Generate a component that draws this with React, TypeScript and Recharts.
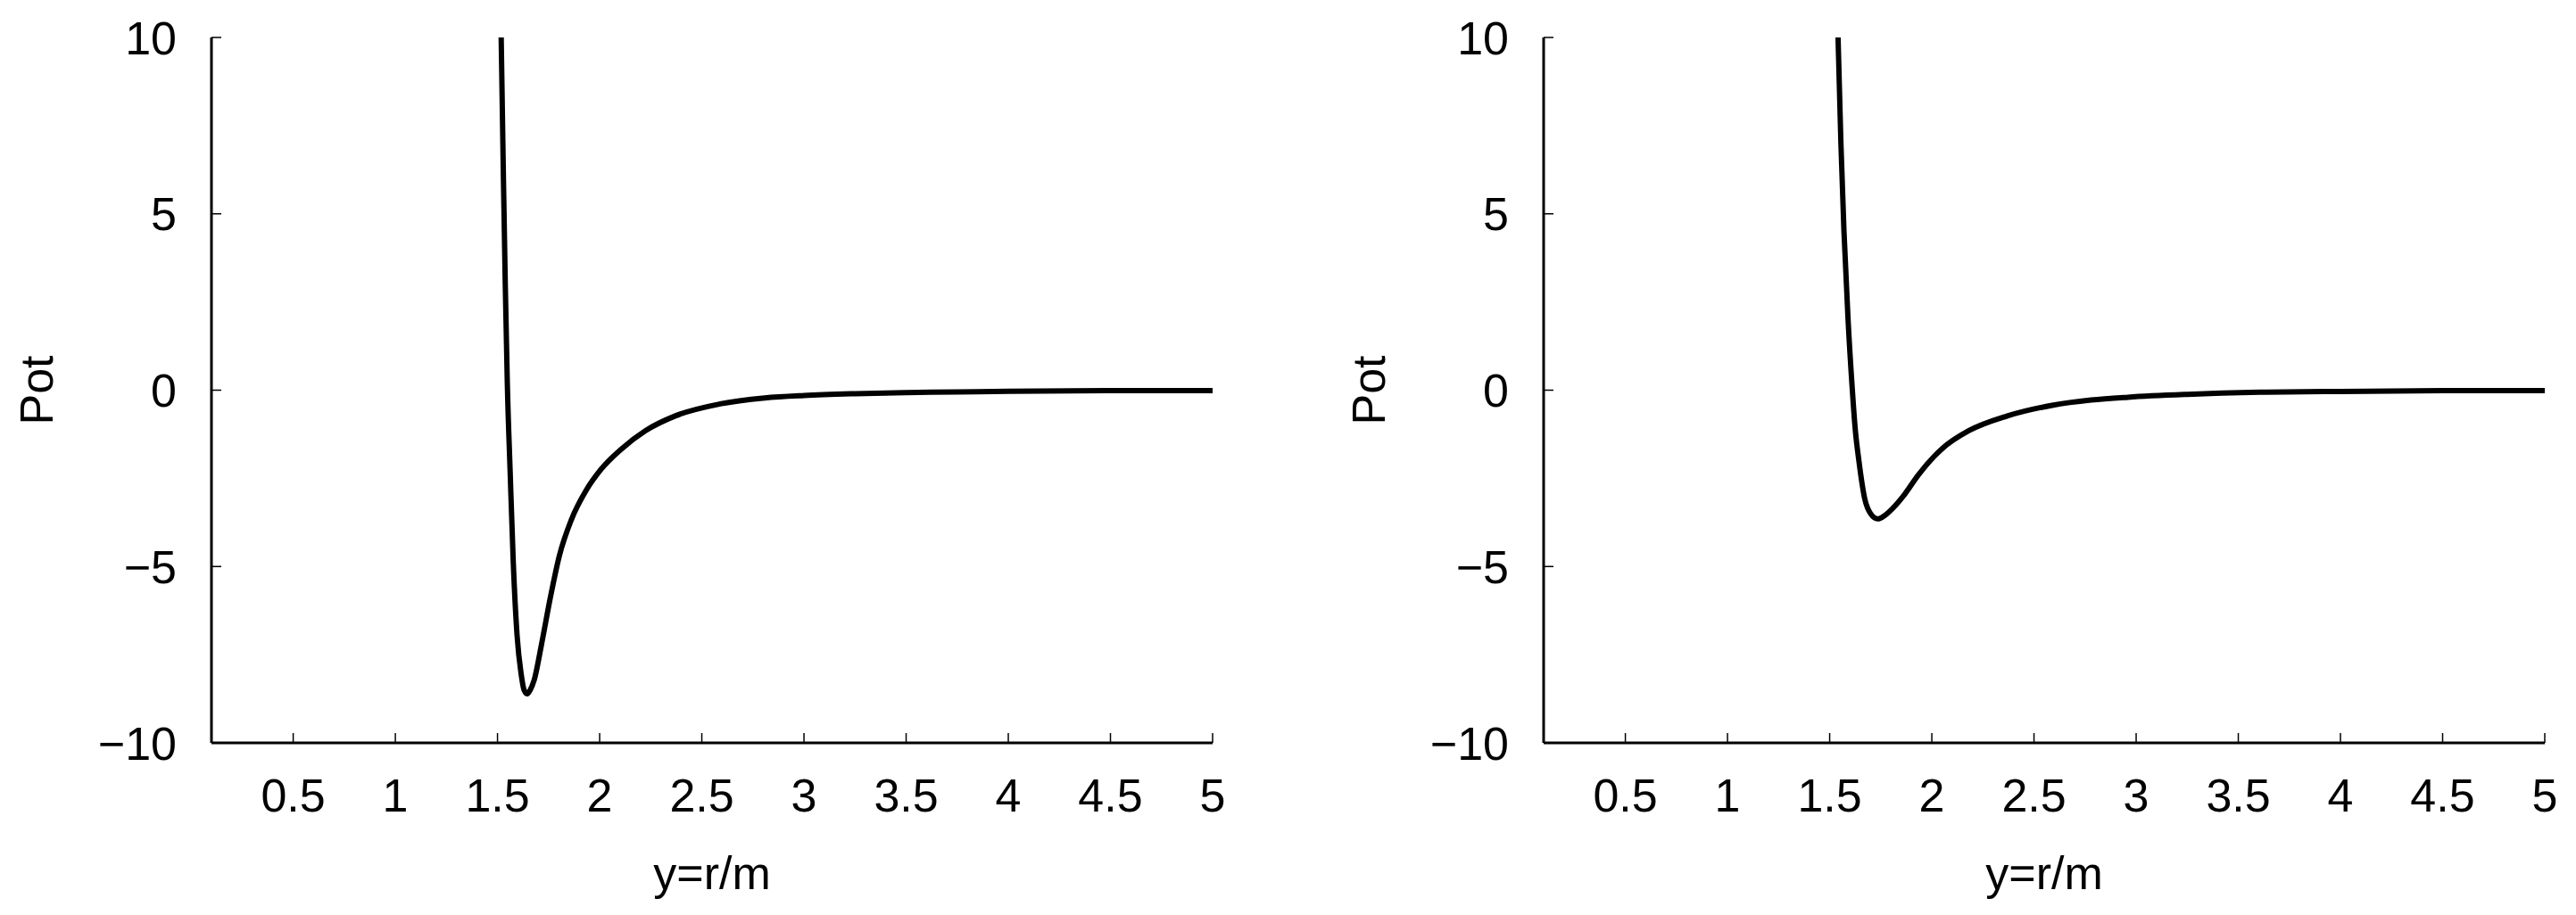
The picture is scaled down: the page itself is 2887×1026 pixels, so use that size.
import React from 'react';
import { LineChart, Line, XAxis, YAxis } from 'recharts';

// Left panel: y=r/m vs Pot
const leftY = [1.518, 1.529, 1.538, 1.548, 1.562, 1.577, 1.596, 1.616, 1.630, 1.645, 1.660, 1.679, 1.715, 1.759, 1.803, 1.861, 1.934, 2.006, 2.108, 2.224, 2.370, 2.589, 2.808, 3.0, 3.25, 3.5, 3.75, 4.0, 4.5, 5.0];
const leftPot = [10, 6.0, 3.0, 0.2, -2.33, -4.86, -6.97, -8.06, -8.5, -8.61, -8.5, -8.23, -7.22, -5.87, -4.69, -3.68, -2.84, -2.25, -1.66, -1.15, -0.73, -0.39, -0.22, -0.15, -0.10, -0.07, -0.05, -0.03, -0.015, -0.01];

// Right panel
const rightY = [1.541, 1.555, 1.570, 1.590, 1.611, 1.625, 1.643, 1.672, 1.700, 1.735, 1.770, 1.820, 1.861, 1.933, 2.050, 2.181, 2.370, 2.589, 2.780, 2.960, 3.25, 3.607, 4.0, 4.5, 5.0];
const rightPot = [10, 7.0, 4.5, 2.0, 0, -1.1, -2.0, -3.09, -3.5, -3.65, -3.55, -3.28, -3.0, -2.41, -1.66, -1.15, -0.73, -0.43, -0.28, -0.2, -0.12, -0.06, -0.035, -0.015, -0.01];

const xTicks = [0.5, 1, 1.5, 2, 2.5, 3, 3.5, 4, 4.5, 5];
const yTicks = [-10, -5, 0, 5, 10];
const xLabel = 'y=r/m';
const yLabel = 'Pot';

const FONT = '"Liberation Sans", Arial, Helvetica, sans-serif';
const FS = 52;
const TL = 11;

const fmt = (v: number) => (v < 0 ? '\u2212' + Math.abs(v) : String(v));

const BottomTick = (p: any) => (
  <g>
    <line x1={p.x} y1={p.y} x2={p.x} y2={p.y - TL} stroke="#000" strokeWidth={1.5} />
    <text x={p.x} y={p.y + 77} textAnchor="middle" fontSize={FS} fontFamily={FONT} fill="#000">
      {fmt(p.payload.value)}
    </text>
  </g>
);
const TopTick = (p: any) => (
  <line x1={p.x} y1={p.y} x2={p.x} y2={p.y + TL} stroke="#000" strokeWidth={1.5} />
);
const LeftTick = (p: any) => (
  <g>
    <line x1={p.x} y1={p.y} x2={p.x + TL} y2={p.y} stroke="#000" strokeWidth={1.5} />
    <text x={p.x - 39} y={p.y + 18.5} textAnchor="end" fontSize={FS} fontFamily={FONT} fill="#000">
      {fmt(p.payload.value)}
    </text>
  </g>
);
const RightTick = (p: any) => (
  <line x1={p.x} y1={p.y} x2={p.x - TL} y2={p.y} stroke="#000" strokeWidth={1.5} />
);

const XLab = (p: any) => {
  const vb = p.viewBox;
  return (
    <text x={vb.x + vb.width / 2} y={vb.y + 164} textAnchor="middle" fontSize={FS} fontFamily={FONT} fill="#000">
      {xLabel}
    </text>
  );
};
const YLab = (p: any) => {
  const vb = p.viewBox;
  const cx = vb.x + 58.5;
  const cy = vb.y + vb.height / 2;
  return (
    <text x={0} y={0} transform={`translate(${cx},${cy}) rotate(-90)`} textAnchor="middle" fontSize={FS} fontFamily={FONT} fill="#000">
      {yLabel}
    </text>
  );
};

const W = 1394;
const H = 1026;

function Panel({ xs, vs, left }: { xs: number[]; vs: number[]; left: number }) {
  const data = xs.map((x, i) => ({ x, v: vs[i] }));
  return (
    <div style={{ position: 'absolute', left, top: 0, width: W, height: H }}>
      <LineChart width={W} height={H} data={data} margin={{ top: 42, right: 35, left: 0, bottom: 0 }}>
        <XAxis
          xAxisId="b"
          dataKey="x"
          type="number"
          domain={[0.1, 5]}
          ticks={xTicks}
          interval={0}
          allowDataOverflow
          height={193}
          tickSize={0}
          tickMargin={0}
          tick={<BottomTick />}
          axisLine={{ stroke: '#000', strokeWidth: 3 }}
          tickLine={false}
          label={<XLab />}
        />
        <XAxis
          xAxisId="t"
          orientation="top"
          dataKey="x"
          type="number"
          domain={[0.1, 5]}
          ticks={xTicks}
          interval={0}
          allowDataOverflow
          height={0}
          tickSize={0}
          tickMargin={0}
          tick={<TopTick />}
          axisLine={{ stroke: '#000', strokeWidth: 3 }}
          tickLine={false}
        />
        <YAxis
          yAxisId="l"
          type="number"
          domain={[-10, 10]}
          ticks={yTicks}
          interval={0}
          allowDataOverflow
          width={237}
          tickSize={0}
          tickMargin={0}
          tick={<LeftTick />}
          axisLine={{ stroke: '#000', strokeWidth: 3 }}
          tickLine={false}
          label={<YLab />}
        />
        <YAxis
          yAxisId="r"
          orientation="right"
          type="number"
          domain={[-10, 10]}
          ticks={yTicks}
          interval={0}
          allowDataOverflow
          width={0}
          tickSize={0}
          tickMargin={0}
          tick={<RightTick />}
          axisLine={{ stroke: '#000', strokeWidth: 3 }}
          tickLine={false}
        />
        <Line
          xAxisId="b"
          yAxisId="l"
          dataKey="v"
          type="monotone"
          stroke="#000"
          strokeWidth={6}
          dot={false}
          isAnimationActive={false}
        />
      </LineChart>
    </div>
  );
}

export default function App() {
  return (
    <div style={{ position: 'absolute', left: 0, top: 0, width: 2887, height: H, background: '#fff', overflow: 'hidden' }}>
      <Panel xs={leftY} vs={leftPot} left={0} />
      <Panel xs={rightY} vs={rightPot} left={1493} />
    </div>
  );
}
